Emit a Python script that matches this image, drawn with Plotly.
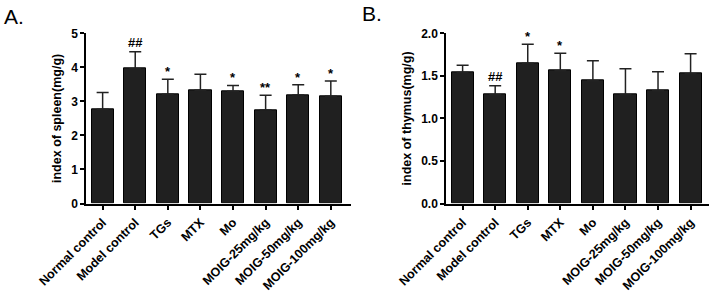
import plotly.graph_objects as go

categories = ["Normal control", "Model control", "TGs", "MTX", "Mo",
              "MOIG-25mg/kg", "MOIG-50mg/kg", "MOIG-100mg/kg"]

spleen_mean = [2.77, 3.96, 3.21, 3.33, 3.30, 2.75, 3.19, 3.15]
spleen_err_top = [3.26, 4.46, 3.65, 3.80, 3.47, 3.18, 3.49, 3.60]
spleen_marks = ["", "##", "*", "", "*", "**", "*", "*"]

thymus_mean = [1.54, 1.278, 1.647, 1.56, 1.443, 1.278, 1.325, 1.525]
thymus_err_top = [1.624, 1.384, 1.87, 1.765, 1.678, 1.584, 1.549, 1.76]
thymus_marks = ["", "##", "*", "*", "", "", "", ""]

spleen_ticks = [0, 1, 2, 3, 4, 5]
thymus_ticks = [0.0, 0.5, 1.0, 1.5, 2.0]
thymus_ticklabels = ["0.0", "0.5", "1.0", "1.5", "2.0"]

FONT = "Liberation Sans"
BAR = "#202020"

W, H = 709, 292

def px_x(p):
    return p / W

def px_y(p):
    return (H - p) / H

fig = go.Figure()

x_idx = list(range(len(categories)))

def add_panel(mean, top, xa, ya):
    fig.add_trace(go.Bar(
        x=x_idx, y=mean, width=0.68,
        marker=dict(color=BAR, line=dict(color="black", width=1)),
        error_y=dict(type="data", symmetric=False,
                     array=[t - m for t, m in zip(top, mean)],
                     arrayminus=[0] * len(mean),
                     color="#222222", thickness=1.5, width=6),
        xaxis=xa, yaxis=ya, showlegend=False, hoverinfo="skip",
    ))

add_panel(spleen_mean, spleen_err_top, "x", "y")
add_panel(thymus_mean, thymus_err_top, "x2", "y2")

markfont = dict(family=FONT, size=13, color="black", weight="bold")
annotations = []
for i, (m, t) in enumerate(zip(spleen_marks, spleen_err_top)):
    if m:
        annotations.append(dict(x=i, y=t, xref="x", yref="y", text=m, showarrow=False,
                                yanchor="bottom", yshift=-2 if "*" in m else 0, font=markfont))
for i, (m, t) in enumerate(zip(thymus_marks, thymus_err_top)):
    if m:
        annotations.append(dict(x=i, y=t, xref="x2", yref="y2", text=m, showarrow=False,
                                yanchor="bottom", yshift=-2 if "*" in m else 0, font=markfont))

annotations.append(dict(x=px_x(2), y=px_y(3), xref="paper", yref="paper", text="A.",
                        showarrow=False, xanchor="left", yanchor="top",
                        font=dict(family=FONT, size=21, color="black")))
annotations.append(dict(x=px_x(360), y=px_y(0), xref="paper", yref="paper", text="B.",
                        showarrow=False, xanchor="left", yanchor="top",
                        font=dict(family=FONT, size=21, color="black")))

tickfont = dict(family=FONT, size=12, color="black", weight="bold")
xtickfont = dict(family=FONT, size=12.5, color="black", weight="bold")

xcommon = dict(
    tickmode="array", tickvals=x_idx, ticktext=categories, tickangle=-45,
    showline=True, linecolor="black", linewidth=1.5, ticks="outside",
    ticklen=5, tickwidth=1.5, tickcolor="black", showgrid=False, zeroline=False,
    tickfont=xtickfont, automargin=False,
)
ycommon = dict(
    showline=True, linecolor="black", linewidth=1.5, ticks="outside",
    ticklen=4, tickwidth=1.5, tickcolor="black", showgrid=False, zeroline=False,
    tickfont=tickfont, automargin=False,
)

fig.update_layout(
    width=W, height=H,
    margin=dict(l=0, r=0, t=0, b=0),
    paper_bgcolor="white", plot_bgcolor="white",
    bargap=0,
    xaxis=dict(domain=[px_x(86), px_x(350.7)], range=[-0.51, 7.61], anchor="y", **xcommon),
    yaxis=dict(domain=[px_y(203.5), px_y(33.3)], range=[0, 5], anchor="x",
               tickvals=spleen_ticks,
               title=dict(text="index of spleen(mg/g)", standoff=7,
                          font=dict(family=FONT, size=12.5, color="black", weight="bold")),
               **ycommon),
    xaxis2=dict(domain=[px_x(446), px_x(708.5)], range=[-0.51, 7.55], anchor="y2", **xcommon),
    yaxis2=dict(domain=[px_y(203.5), px_y(33.3)], range=[0, 2], anchor="x2",
                tickvals=thymus_ticks, ticktext=thymus_ticklabels,
                title=dict(text="index of thymus(mg/g)", standoff=7,
                           font=dict(family=FONT, size=12.5, color="black", weight="bold")),
                **ycommon),
    annotations=annotations,
)

fig.write_html("out.html", config={"displayModeBar": False},
               post_script="document.body.style.margin='0';document.body.style.padding='0';")
